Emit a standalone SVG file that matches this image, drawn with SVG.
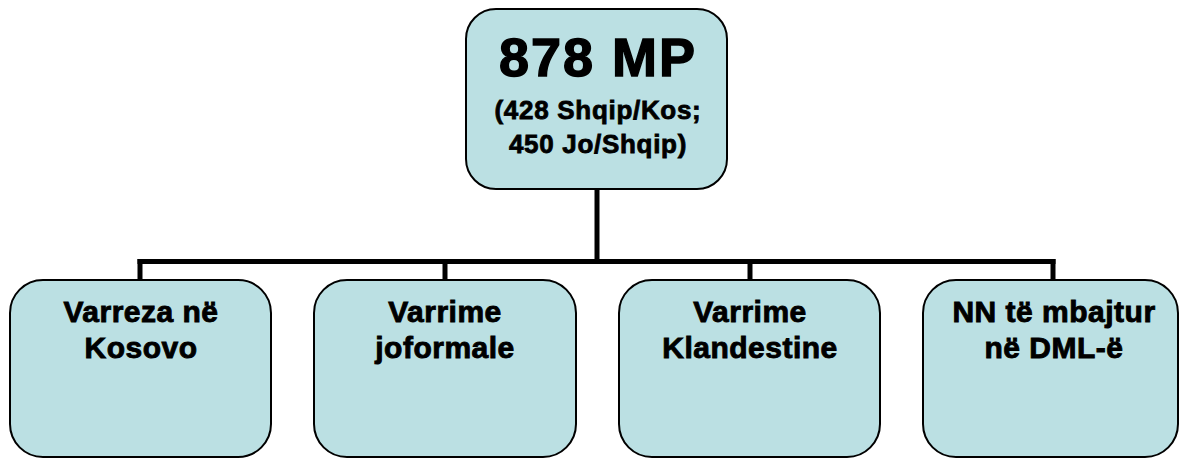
<svg xmlns="http://www.w3.org/2000/svg" width="1181" height="459" viewBox="0 0 1181 459">
<style>
.box{fill:#BBE0E3;stroke:#000;stroke-width:2}
.t{font-family:"Liberation Sans",Arial,sans-serif;font-weight:bold;fill:#000;stroke:#000;text-anchor:middle}
.big{font-size:54px;letter-spacing:2px;stroke-width:1.4px}
.mid{font-size:26px;letter-spacing:0.7px;stroke-width:0.8px}
.lab{font-size:30px;letter-spacing:0.5px;stroke-width:0.9px}
.conn{fill:none;stroke:#000;stroke-width:5;stroke-linecap:butt}
</style>
<rect width="1181" height="459" fill="#fff"/>
<g id="connectors">
<line class="conn" x1="597" y1="189" x2="597" y2="261.5"/>
<line class="conn" x1="137.5" y1="261.5" x2="1055.5" y2="261.5"/>
<line class="conn" x1="140" y1="259" x2="140" y2="281"/>
<line class="conn" x1="445" y1="259" x2="445" y2="281"/>
<line class="conn" x1="750" y1="259" x2="750" y2="281"/>
<line class="conn" x1="1053" y1="259" x2="1053" y2="281"/>
</g>
<g id="root">
<rect class="box" x="466" y="9" width="261" height="180" rx="30" ry="30"/>
<text class="t big" x="598" y="76">878 MP</text>
<text class="t mid" x="598" y="119">(428 Shqip/Kos;</text>
<text class="t mid" x="598" y="153">450 Jo/Shqip)</text>
</g>
<g id="node1">
<rect class="box" x="10" y="280" width="261" height="177" rx="33" ry="33"/>
<text class="t lab" x="141" y="322">Varreza në</text>
<text class="t lab" x="141" y="358">Kosovo</text>
</g>
<g id="node2">
<rect class="box" x="314" y="280" width="262" height="177" rx="33" ry="33"/>
<text class="t lab" x="445" y="322">Varrime</text>
<text class="t lab" x="445" y="358">joformale</text>
</g>
<g id="node3">
<rect class="box" x="619" y="280" width="261" height="177" rx="33" ry="33"/>
<text class="t lab" x="750" y="322">Varrime</text>
<text class="t lab" x="750" y="358">Klandestine</text>
</g>
<g id="node4">
<rect class="box" x="923" y="280" width="255" height="177" rx="33" ry="33"/>
<text class="t lab" x="1054" y="322">NN të mbajtur</text>
<text class="t lab" x="1054" y="358">në DML-ë</text>
</g>
</svg>
